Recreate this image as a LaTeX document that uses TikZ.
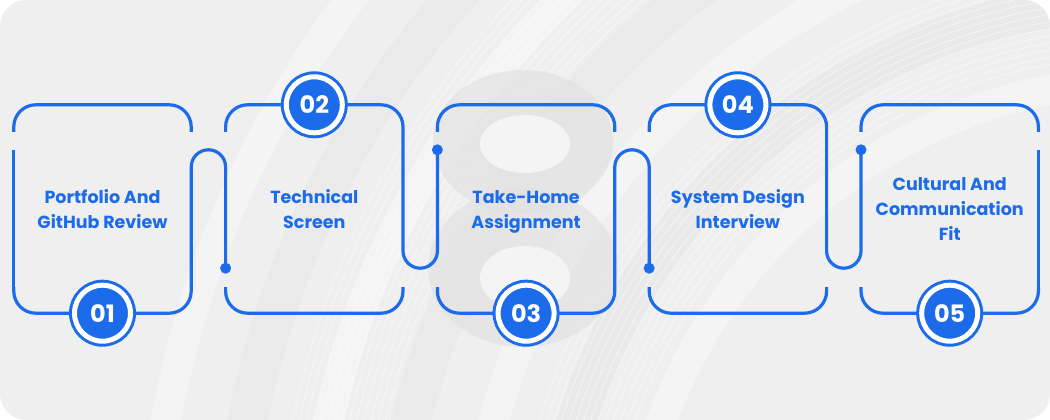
\documentclass[tikz,border=0pt]{standalone}
\usepackage{fontspec}
\setmainfont{Poppins}
\usepackage{tikz}
\usetikzlibrary{positioning,calc}
\definecolor{myblue}{HTML}{1C6BEA}
\definecolor{cardgray}{HTML}{EFEFEF}
\definecolor{eightgray}{HTML}{E2E2E2}
\newcommand{\tallrow}{\rule{0pt}{19pt}}

\begin{document}
\begin{tikzpicture}[x=1pt,y=1pt,
    stage/.style={minimum width=177pt,minimum height=208pt,inner sep=0pt,align=center,
      text=myblue,font=\bfseries\fontsize{17.5}{25}\selectfont,
      execute at end node={\rule[-5pt]{0pt}{5pt}}},
    frame/.style={draw=myblue,line width=3.2pt,rounded corners=22pt},
    link/.style={draw=myblue,line width=3.2pt},
    badge/.style={circle,inner sep=0pt,minimum size=56pt,fill=myblue,draw=myblue,
      line width=3pt,double=white,double distance=5pt,text=white,
      font=\bfseries\fontsize{24}{24}\selectfont}]
  \useasboundingbox (0,0) rectangle (1050,420);
  % background card
  \fill[cardgray,rounded corners=26pt] (0,0) rectangle (1050,420);
  \begin{scope}
    \clip[rounded corners=26pt] (0,0) rectangle (1050,420);
    \foreach \r in {520,680,840,1000}
      \draw[white,opacity=.35,line width=30pt] (1150,-180) circle (\r);
    \foreach \r in {600,760,920}
      \draw[black,opacity=.018,line width=40pt] (1150,-180) circle (\r);
    \foreach \r in {545,552,...,640,785,792,...,880}
      \draw[white,opacity=.6,line width=.6pt] (1150,-180) circle (\r);
  \end{scope}
  % big 8 behind the middle step
  \fill[eightgray,opacity=.7] (523,152) ellipse (95 and 79);
  \fill[eightgray,opacity=.7] (523,278) ellipse (90 and 72);
  \fill[cardgray!70!white] (525,276) ellipse (45 and 29);
  \fill[cardgray!70!white] (525,142) ellipse (45 and 32);

  % steps
  \node[stage] (s1) at (102.5,211) {\tallrow Portfolio And\\GitHub Review};
  \node[stage,right=34.4pt of s1] (s2) {\tallrow Technical\\Screen};
  \node[stage,right=34.4pt of s2] (s3) {\tallrow Take-Home\\Assignment};
  \node[stage,right=34.4pt of s3] (s4) {\tallrow System Design\\Interview};
  \node[stage,right=34.4pt of s4] (s5) {\tallrow Cultural And\\Communication\\Fit};

  \foreach \i in {1,...,5} {
    \draw[frame] ($(s\i.north west)+(0,-27)$) |- (s\i.north east) -- ++(0,-27);
    \draw[frame] ($(s\i.south west)+(0,26)$) |- (s\i.south east) -- ++(0,26);
  }
  \draw[link] ($(s1.north west)+(0,-45)$) -- ($(s1.south west)+(0,26)$);
  \draw[link] ($(s5.north east)+(0,-45)$) -- ($(s5.south east)+(0,26)$);

  % links over the top
  \foreach \i/\j in {1/2,3/4} {
    \draw[link] ($(s\i.south east)+(0,26)$) -- ($(s\i.north east)+(0,-62.2)$)
      arc[start angle=180,end angle=0,radius=17.2pt] -- ($(s\j.south west)+(0,45)$) coordinate (d\j);
    \fill[myblue] (d\j) circle (5.5pt);
  }
  % links under the bottom
  \foreach \i/\j in {2/3,4/5} {
    \draw[link] ($(s\i.north east)+(0,-27)$) -- ($(s\i.south east)+(0,62.2)$)
      arc[start angle=180,end angle=360,radius=17.2pt] -- ($(s\j.north west)+(0,-45)$) coordinate (d\j);
    \fill[myblue] (d\j) circle (5.5pt);
  }

  % numbers
  \node[badge] (n1) at (s1.south) {01};
  \node[badge] (n2) at (s2.north) {02};
  \node[badge] (n3) at (s3.south) {03};
  \node[badge] (n4) at (s4.north) {04};
  \node[badge] (n5) at (s5.south) {05};
\end{tikzpicture}
\end{document}
